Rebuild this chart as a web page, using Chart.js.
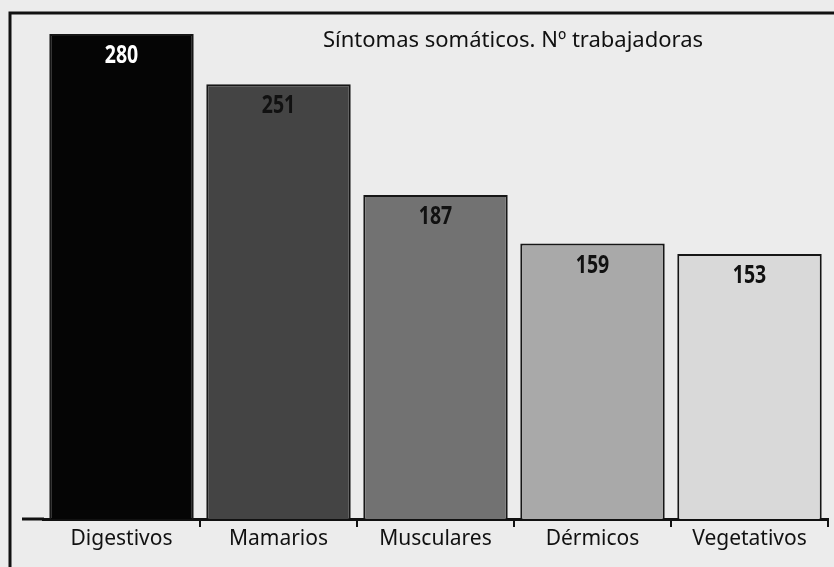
<!DOCTYPE html>
<html>
<head>
<meta charset="utf-8">
<script src="https://cdn.jsdelivr.net/npm/chart.js@4/dist/chart.umd.min.js"></script>
<style>
  html, body { margin: 0; padding: 0; background: #ececec; }
  #wrap { width: 834px; height: 567px; }
</style>
</head>
<body>
<div id="wrap"><canvas id="chart" width="834" height="567"></canvas></div>
<script>
'use strict';

const categories = ['Digestivos', 'Mamarios', 'Musculares', 'Dérmicos', 'Vegetativos'];
const trabajadoras = [280, 251, 187, 159, 153];
const barColors = ['#050505', '#444444', '#727272', '#a9a9a9', '#d9d9d9'];
const labelColors = ['#ffffff', '#111111', '#111111', '#111111', '#111111'];
const titleText = 'Síntomas somáticos. Nº trabajadoras';

// frame, background and the title text
const framePlugin = {
    id: 'frame',
    beforeDraw(chart) {
        const ctx = chart.ctx;
        ctx.save();
        ctx.fillStyle = '#ececec';
        ctx.fillRect(0, 0, chart.width, chart.height);
        ctx.strokeStyle = '#111';
        ctx.lineWidth = 3;
        ctx.beginPath();
        ctx.moveTo(10, chart.height);
        ctx.lineTo(10, 13);
        ctx.lineTo(chart.width, 13);
        ctx.stroke();
        ctx.restore();
    },
    afterDraw(chart) {
        const ctx = chart.ctx;
        const area = chart.chartArea;
        ctx.save();
        // axis line runs a bit further left than the plot area
        ctx.strokeStyle = '#111';
        ctx.lineWidth = 3;
        ctx.beginPath();
        ctx.moveTo(22, area.bottom);
        ctx.lineTo(area.left + 1, area.bottom);
        ctx.stroke();

        ctx.fillStyle = '#111';
        ctx.font = '22px "Noto Sans", sans-serif';
        ctx.textBaseline = 'alphabetic';
        ctx.textAlign = 'left';
        ctx.fillText(titleText, 323, 47);
        ctx.restore();
    }
};

// value labels inside the top of each bar (narrow bold figures)
const valuePlugin = {
    id: 'values',
    afterDatasetsDraw(chart) {
        const ctx = chart.ctx;
        const meta = chart.getDatasetMeta(0);
        meta.data.forEach((bar, i) => {
            ctx.save();
            ctx.translate(bar.x, bar.y + 22);
            ctx.scale(0.78, 1);
            ctx.font = 'bold 25px "Noto Sans", sans-serif';
            ctx.textAlign = 'center';
            ctx.textBaseline = 'middle';
            ctx.fillStyle = labelColors[i];
            ctx.fillText(String(trabajadoras[i]), 0, 0);
            ctx.restore();
        });
    }
};

new Chart(document.getElementById('chart'), {
    type: 'bar',
    data: {
        labels: categories,
        datasets: [{
            data: trabajadoras,
            backgroundColor: barColors,
            borderColor: '#161616',
            borderWidth: 2,
            borderSkipped: 'bottom',
            barPercentage: 0.92,
            categoryPercentage: 1
        }]
    },
    options: {
        responsive: false,
        animation: false,
        layout: { padding: { left: 43, right: 6, top: 34, bottom: 0 } },
        plugins: {
            legend: { display: false },
            tooltip: { enabled: false },
            title: { display: false }
        },
        scales: {
            y: { display: false, min: 0, max: 280 },
            x: {
                afterFit: (scale) => { scale.height = 48; },
                grid: {
                    offset: true,
                    drawOnChartArea: false,
                    drawTicks: true,
                    tickLength: 8,
                    lineWidth: 2,
                    color: (c) => c.index === 0 ? 'rgba(0,0,0,0)' : '#111'
                },
                border: { display: true, color: '#111', width: 3 },
                ticks: {
                    color: '#111',
                    padding: -1,
                    font: { family: '"Noto Sans", sans-serif', size: 21 }
                }
            }
        }
    },
    plugins: [framePlugin, valuePlugin]
});
</script>
</body>
</html>
